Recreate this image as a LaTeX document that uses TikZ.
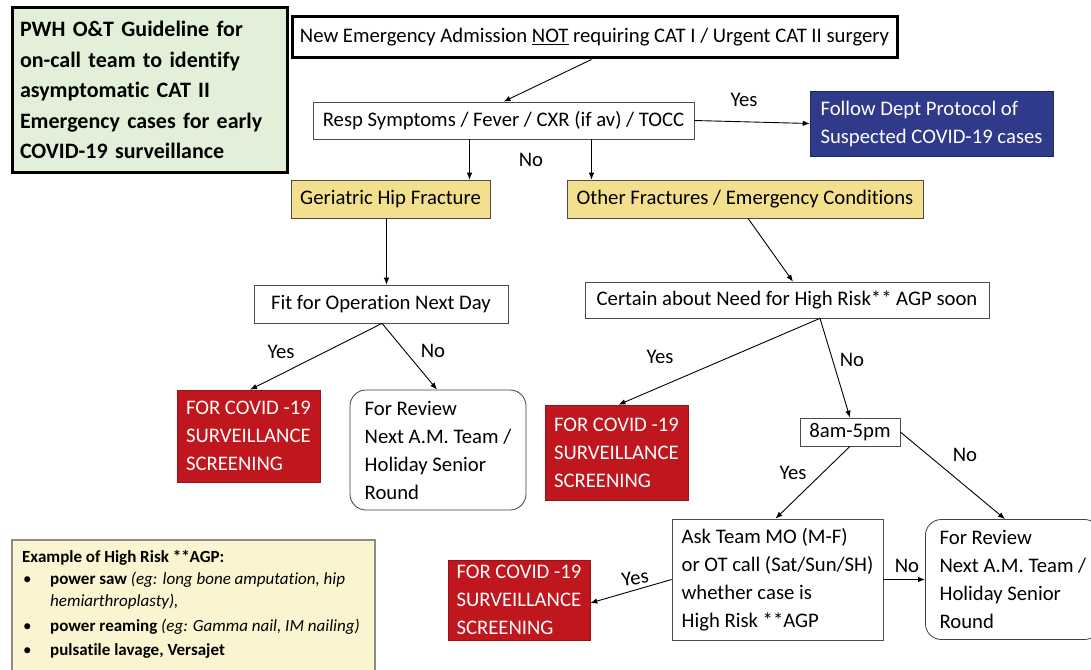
\documentclass[tikz,border=0pt]{standalone}
\usepackage{fontspec}
\setmainfont{Carlito}[Ligatures={NoCommon}]
\usetikzlibrary{arrows.meta,calc}
\definecolor{titlegreen}{HTML}{E2EFD9}
\definecolor{hdrblue}{HTML}{2F3A8A}
\definecolor{boxyellow}{HTML}{F2E08E}
\definecolor{alertred}{HTML}{C0161D}
\definecolor{legendbg}{HTML}{FBF4D0}
\definecolor{legendedge}{HTML}{8C8C80}
\begin{document}
\begin{tikzpicture}[x=1pt,y=-1pt,
  txt/.style={font=\fontsize{20.7}{28}\selectfont},
  plain/.style={txt, draw=black!70, line width=0.7pt, fill=white, inner sep=0pt},
  heavy/.style={txt, draw=black, line width=3pt, fill=white, inner sep=0pt},
  yellowbox/.style={plain, fill=boxyellow},
  redbox/.style={txt, draw=alertred!80!black, line width=0.5pt, fill=alertred, text=white, inner sep=0pt, align=left},
  roundbox/.style={txt, draw=black!75, line width=0.8pt, fill=white, rounded corners=16pt, inner sep=0pt, align=left},
  arr/.style={-{Latex[length=7pt,width=5.5pt]}, line width=0.9pt, black},
  lab/.style={txt, inner sep=0pt}
]
\useasboundingbox (0,0) rectangle (1091,669);

% title
\node[draw=black, line width=3pt, fill=titlegreen, minimum width=275, minimum height=164,
      text width=259, inner xsep=8pt, align=left,
      font=\bfseries\fontsize{22}{30.5}\selectfont] (title) at (149.5,90)
  {PWH O\&T Guideline for\\on-call team to identify\\asymptomatic CAT II\\Emergency cases for early\\COVID-19 surveillance};

% legend
\node[fill=legendbg, draw=legendedge, line width=2pt, minimum width=363, minimum height=135,
      inner sep=0pt] (legend) at (193.5,607.5) {};
\node[anchor=north west, inner sep=0pt, align=left, font=\fontsize{17}{22}\selectfont] (legtext) at (22,547)
  {\begin{tabular}{@{}p{28pt}@{}l@{}}
   \multicolumn{2}{@{}l@{}}{\bfseries Example of High Risk **AGP:}\\[0pt]
   \hspace*{1pt}\textbullet & \textbf{power saw} \textit{(eg: long bone amputation, hip}\\
               & \textit{hemiarthroplasty),}\\[3pt]
   \hspace*{1pt}\textbullet & \textbf{power reaming} \textit{(eg: Gamma nail, IM nailing)}\\[2pt]
   \hspace*{1pt}\textbullet & \textbf{pulsatile lavage, Versajet}
   \end{tabular}};

% main nodes
\node[heavy, minimum width=605, minimum height=41] (top) at (594.5,37.5)
  {New Emergency Admission \underline{NOT} requiring CAT I / Urgent CAT II surgery};
\node[plain, minimum width=381, minimum height=37] (resp) at (503.5,120.5)
  {Resp Symptoms / Fever / CXR (if av) / TOCC};
\node[txt, fill=hdrblue, draw=hdrblue!70!black, line width=0.5pt, text=white, minimum width=243, minimum height=65,
      inner sep=0pt, align=left] (blue) at (931.5,123.5)
  {Follow Dept Protocol of\\Suspected COVID-19 cases};
\node[yellowbox, minimum width=199, minimum height=38] (geri) at (390.5,199) {Geriatric Hip Fracture};
\node[yellowbox, minimum width=356, minimum height=38] (other) at (745,199) {Other Fractures / Emergency Conditions};
\node[plain, minimum width=254, minimum height=38] (fit) at (381,304) {Fit for Operation Next Day};
\node[plain, minimum width=404, minimum height=36] (certain) at (787,300) {Certain about Need for High Risk** AGP soon};

\node[redbox, minimum width=143, minimum height=92] (red1) at (248.5,436)
  {FOR COVID -19\\SURVEILLANCE\\SCREENING};
\node[roundbox, minimum width=176, minimum height=120] (rev1) at (438,450)
  {For Review\\Next A.M. Team /\\Holiday Senior\\Round};
\node[redbox, minimum width=143, minimum height=95] (red2) at (616.5,452.5)
  {FOR COVID -19\\SURVEILLANCE\\SCREENING};
\node[plain, minimum width=100, minimum height=28] (time) at (850,432) {8am-5pm};
\node[plain, minimum width=211, minimum height=121, align=left] (ask) at (777.5,579.5)
  {Ask Team MO (M-F)\\or OT call (Sat/Sun/SH)\\whether case is\\High Risk **AGP};
\node[roundbox, anchor=west, minimum height=120, minimum width=175, inner xsep=14pt] (rev2) at (925,579.5)
  {For Review\\Next A.M. Team /\\Holiday Senior\\Round};
\node[redbox, minimum width=142, minimum height=80] (red3) at (519,600)
  {FOR COVID -19\\SURVEILLANCE\\SCREENING};

% connectors
\draw[arr] ($(top.south)+(-3,0)$) -- (resp.north);
\draw[arr] (resp.east) -- (blue.west);
\coordinate (n1) at ($(resp.south)+(-34,0)$);
\coordinate (n2) at ($(resp.south)+(88,0)$);
\draw[arr] (n1) -- (n1 |- geri.north);
\draw[arr] (n2) -- (n2 |- other.north);
\coordinate (g1) at ($(geri.south)+(-4,0)$);
\draw[arr] (g1) -- (g1 |- fit.north);
\draw[arr] ($(other.south)+(3,0)$) -- ($(certain.north)+(6,0)$);
\coordinate (f1) at ($(fit.south)+(1,0)$);
\draw[arr] (f1) -- ($(red1.north)+(1.5,0)$);
\draw[arr] (f1) -- ($(rev1.north)+(-1,0)$);
\coordinate (c1) at ($(certain.south)+(33,0)$);
\draw[arr] (c1) -- ($(red2.north)+(2,0)$);
\draw[arr] (c1) -- (time.north);
\draw[arr] (time.south) -- ($(ask.north)+(-2,0)$);
\coordinate (r2top) at (1005,0);
\draw[arr] (time.east) -- (r2top |- rev2.north);
\draw[arr] (ask.west) -- ($(red3.east)+(0,3)$);
\draw[arr] (ask.east) -- (ask.east -| rev2.west);

% labels
\node[lab] (l1) at (744,100) {Yes};
\node[lab] (l2) at (531,160) {No};
\node[lab] (l3) at (281,352) {Yes};
\node[lab] (l4) at (433,351) {No};
\node[lab] (l5) at (660,357) {Yes};
\node[lab] (l6) at (852,360) {No};
\node[lab] (l7) at (793,473) {Yes};
\node[lab] (l8) at (965,455) {No};
\node[lab, rotate=8] (l9) at (635,578) {Yes};
\node[lab] (l10) at (907,566) {No};
\end{tikzpicture}
\end{document}
